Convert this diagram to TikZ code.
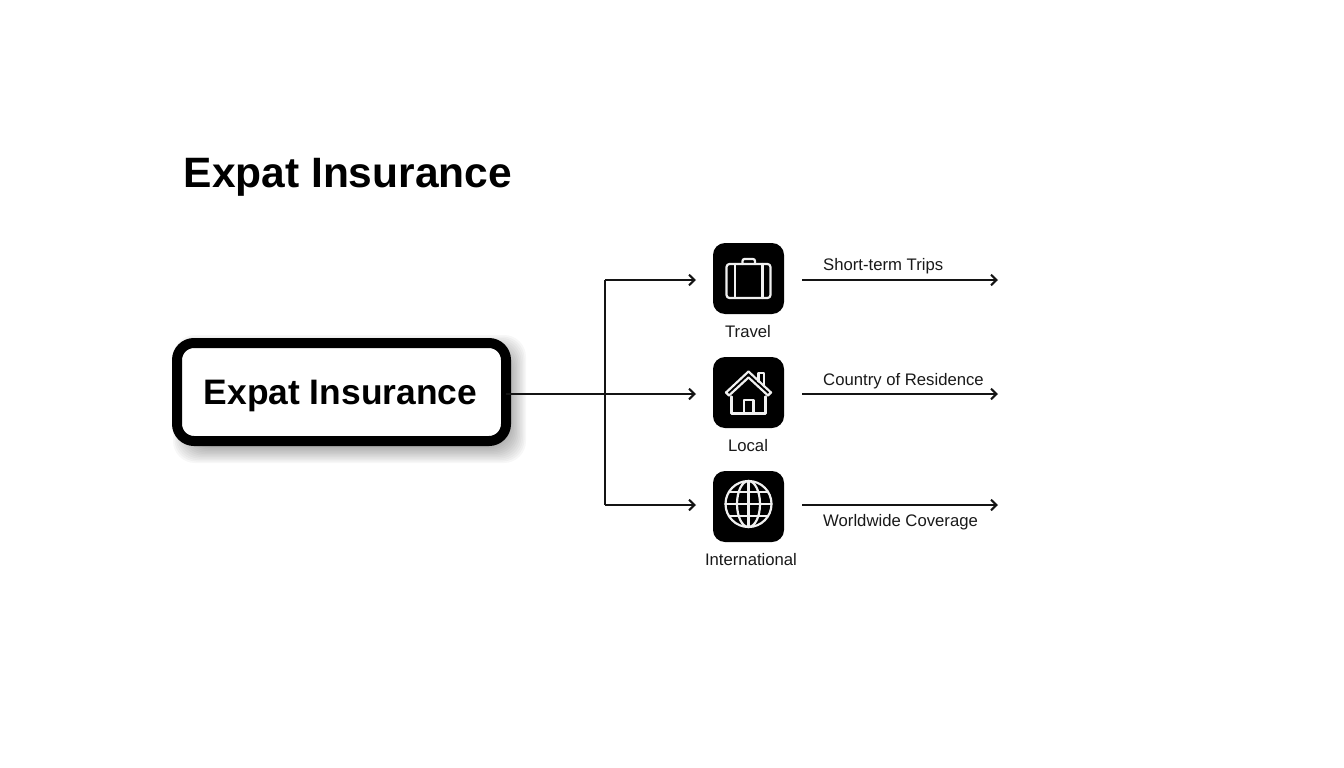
\documentclass[tikz,border=0pt]{standalone}
\usepackage{fontspec}
\setmainfont{Liberation Sans}
\usetikzlibrary{arrows.meta}
\tikzset{
  conn/.style={draw=black!92,line width=2.1pt,-{Straight Barb[length=5.5pt,width=10.5pt,line width=2.1pt]}},
  trunk/.style={draw=black!92,line width=2.1pt},
  iconbox/.style={fill=black,rounded corners=12pt,minimum width=71pt,minimum height=71pt,inner sep=0pt,outer sep=0pt},
  glyph/.style={draw=white!94!black,line width=2.2pt,line join=round,line cap=round},
  caption/.style={font=\fontsize{16.7pt}{19pt}\selectfont,text=black!90,inner sep=0pt},
  mainbox/.style={draw=black,line width=10pt,fill=white,rounded corners=17pt,minimum width=329pt,minimum height=98pt,inner sep=0pt,outer sep=0pt},
  headline/.style={font=\fontsize{42.5pt}{48pt}\selectfont\bfseries,inner sep=0pt,anchor=west}
}
\begin{document}
\begin{tikzpicture}[x=1pt,y=-1pt]
\useasboundingbox (0,0) rectangle (1344,768);
\node[headline] (title) at (183.5,177) {Expat Insurance};
% soft shadow
\foreach \d in {9,7.5,...,-7.5}{
  \fill[black,opacity=.03,rounded corners=22pt] (172+10-\d,338+6-\d) rectangle (511+6+\d,446+8+\d);
}
\coordinate (junction) at (605,394);
\coordinate (jtop) at (605,280);
\coordinate (jbot) at (605,505);
\coordinate (arrA) at (696,280);
\coordinate (arrB) at (696,394);
\coordinate (arrC) at (696,505);
\node[mainbox] (box) at (341.5,392) {};
\node[font=\fontsize{35.4pt}{40pt}\selectfont\bfseries,inner sep=0pt] (boxtext) at (340.5,396) {Expat Insurance};
\draw[conn] (box.east |- junction) -- (arrB);
\draw[trunk] (jtop) -- (jbot);
\draw[conn] (jtop) -- (arrA);
\draw[conn] (jbot) -- (arrC);
% icons
\node[iconbox] (travel) at (748.5,278.5) {};
\node[iconbox] (local) at (748.5,392.5) {};
\node[iconbox] (intl) at (748.5,506.5) {};
% suitcase
\begin{scope}[shift={(travel.center)}]
  \draw[glyph,rounded corners=3pt] (-22,-14.5) rectangle (22,19.5);
  \draw[glyph] (-13.5,-14.5) -- (-13.5,19.5) (14,-14.5) -- (14,19.5);
  \draw[glyph,rounded corners=2pt] (-6,-14.5) -- (-6,-19.5) -- (6.5,-19.5) -- (6.5,-14.5);
\end{scope}
% house
\begin{scope}[shift={(local.center)}]
  \draw[glyph] (-22.5,0) -- (0,-21) -- (22.5,0) -- (19.5,3) -- (0,-15) -- (-19.5,3) -- cycle;
  \draw[glyph] (-17,4) -- (-17,21) -- (17,21) -- (17,4);
  \draw[glyph] (-4.5,21) -- (-4.5,7.5) -- (5,7.5) -- (5,21);
  \draw[glyph] (10,-11) -- (10,-19.5) -- (15.5,-19.5) -- (15.5,-6);
\end{scope}
% globe
\begin{scope}[shift={(intl.center)},yshift=2.5pt]
  \draw[glyph] (0,0) circle (23);
  \draw[glyph] (0,0) ellipse (11.5 and 23);
  \draw[glyph] (0,-23) -- (0,23) (-23,0) -- (23,0);
  \draw[glyph] (-19.5,-12) -- (19.5,-12) (-19.5,12) -- (19.5,12);
\end{scope}
\node[caption] (lt) at (748,332) {Travel};
\node[caption] (ll) at (748,446) {Local};
\node[caption] (li) at (751,560) {International};
% right-hand arrows
\coordinate (rA) at (802,280);
\coordinate (rB) at (802,394);
\coordinate (rC) at (802,505);
\coordinate (eA) at (998,280);
\coordinate (eB) at (998,394);
\coordinate (eC) at (998,505);
\draw[conn] (rA) -- (eA);
\draw[conn] (rB) -- (eB);
\draw[conn] (rC) -- (eC);
\node[caption,anchor=west] (ta) at (823,266) {Short-term Trips};
\node[caption,anchor=west] (tb) at (823,381) {Country of Residence};
\node[caption,anchor=west] (tc) at (823,522) {Worldwide Coverage};
\end{tikzpicture}
\end{document}
